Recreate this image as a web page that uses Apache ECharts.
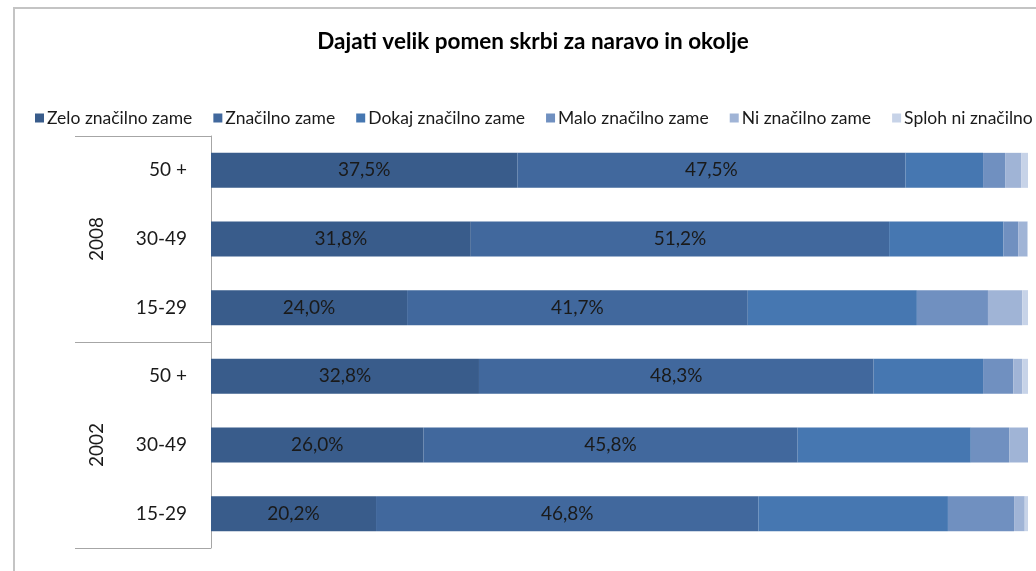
<!DOCTYPE html>
<html>
<head>
<meta charset="utf-8">
<script src="https://cdn.jsdelivr.net/npm/echarts@6/dist/echarts.min.js"></script>
<style>
  html, body { margin: 0; padding: 0; background: #fff; overflow: hidden; }
  #chart { width: 1150px; height: 571px; }
</style>
</head>
<body>
<div id="chart"></div>
<script>
const categories = ['50 +', '30-49', '15-29', '50 +', '30-49', '15-29'];
const years = ['2008', '2002'];

const seriesNames = ['Zelo značilno zame', 'Značilno zame', 'Dokaj značilno zame',
  'Malo značilno zame', 'Ni značilno zame', 'Sploh ni značilno zame'];

const zelo     = [37.5, 31.8, 24.0, 32.8, 26.0, 20.2];
const znacilno = [47.5, 51.2, 41.7, 48.3, 45.8, 46.8];
const dokaj    = [9.5, 14.0, 20.7, 13.4, 21.2, 23.2];
const malo     = [2.7, 1.8, 8.7, 3.7, 4.7, 8.1];
const ni       = [2.0, 1.1, 4.2, 1.1, 2.3, 1.3];
const sploh    = [0.8, 0.1, 0.7, 0.7, 0.0, 0.4];

const colors = ['#395c8b', '#41689d', '#4677b1', '#7090c0', '#a0b4d6', '#c7d3e8'];
const FONT = 'Lato';

// chart is wider than the window on purpose: the legend runs off the right edge
var chart = echarts.init(document.getElementById('chart'));

function pct(p) {
    return p.value.toFixed(1).replace('.', ',') + '%';
}

var allData = [zelo, znacilno, dokaj, malo, ni, sploh];
var series = allData.map(function (arr, i) {
    return {
        name: seriesNames[i],
        type: 'bar',
        stack: 'total',
        barWidth: 35,
        data: arr,
        itemStyle: { color: colors[i] },
        label: {
            show: i < 2,
            position: 'inside',
            formatter: pct,
            color: '#1a1a1a',
            fontFamily: FONT,
            fontSize: 19
        }
    };
});

var option = {
    animation: false,
    color: colors,
    title: {
        text: 'Dajati velik pomen skrbi za naravo in okolje',
        left: 528,
        top: 25,
        textAlign: 'center',
        textStyle: { fontFamily: FONT, fontSize: 22.5, fontWeight: 'bold', color: '#000' }
    },
    legend: {
        left: 30,
        top: 104,
        itemWidth: 9,
        itemHeight: 9,
        itemGap: 21,
        icon: 'rect',
        textStyle: { fontFamily: FONT, fontSize: 17.5, color: '#1a1a1a', padding: [0, 0, 0, -2] },
        data: seriesNames
    },
    graphic: [{
        type: 'rect',
        shape: { x: 14, y: 8, width: 1300, height: 700 },
        style: { fill: 'none', stroke: '#c4c4c4', lineWidth: 2 },
        silent: true
    }],
    grid: { left: 211, right: 122, top: 136, bottom: 23 },
    xAxis: {
        type: 'value',
        min: 0,
        max: 100,
        show: false
    },
    yAxis: [
        {
            type: 'category',
            data: categories,
            inverse: true,
            axisLine: { show: true, lineStyle: { color: '#a6a6a6', width: 1 } },
            axisTick: { show: false },
            axisLabel: { fontFamily: FONT, fontSize: 19, color: '#1a1a1a', margin: 24 }
        },
        {
            type: 'category',
            data: years,
            inverse: true,
            position: 'left',
            offset: 0,
            axisLine: { show: false },
            axisTick: { show: true, length: 136, lineStyle: { color: '#a6a6a6' } },
            axisLabel: { fontFamily: FONT, fontSize: 19, color: '#1a1a1a', rotate: 90, margin: 105 }
        }
    ],
    series: series
};

chart.setOption(option);
</script>
</body>
</html>
